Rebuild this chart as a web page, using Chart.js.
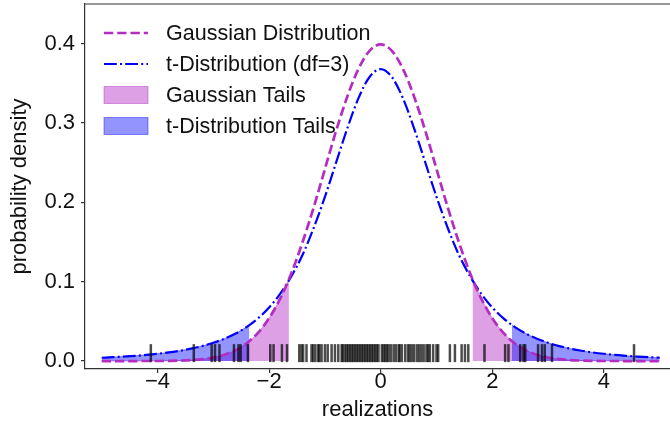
<!DOCTYPE html>
<html>
<head>
<meta charset="utf-8">
<script src="https://cdn.jsdelivr.net/npm/chart.js@4.4.1/dist/chart.umd.min.js"></script>
<style>
  html, body { margin: 0; padding: 0; background: #fff; overflow: hidden; }
</style>
</head>
<body>
<canvas id="chart" width="670" height="434"></canvas>
<script>
// curve values, x from -5 to 5 in steps of 0.2
const xValues = [-5.0, -4.8, -4.6, -4.4, -4.2, -4.0, -3.8, -3.6, -3.4, -3.2, -3.0, -2.8, -2.6, -2.4, -2.2,
  -2.0, -1.8, -1.6, -1.4, -1.2, -1.0, -0.8, -0.6, -0.4, -0.2, 0.0, 0.2, 0.4, 0.6, 0.8, 1.0, 1.2, 1.4, 1.6,
  1.8, 2.0, 2.2, 2.4, 2.6, 2.8, 3.0, 3.2, 3.4, 3.6, 3.8, 4.0, 4.2, 4.4, 4.6, 4.8, 5.0];
const gaussianDensity = [0, 0, 0, 0, 0.0001, 0.0001, 0.0003, 0.0006, 0.0012, 0.0024, 0.0044, 0.0079, 0.0136,
  0.0224, 0.0355, 0.054, 0.079, 0.111, 0.150, 0.194, 0.242, 0.290, 0.333, 0.368, 0.391, 0.399, 0.391, 0.368,
  0.333, 0.290, 0.242, 0.194, 0.150, 0.111, 0.079, 0.054, 0.0355, 0.0224, 0.0136, 0.0079, 0.0044, 0.0024,
  0.0012, 0.0006, 0.0003, 0.0001, 0.0001, 0, 0, 0, 0];
const tDensity = [0.0042, 0.0049, 0.0057, 0.0066, 0.0078, 0.0092, 0.0109, 0.0130, 0.0156, 0.0189, 0.0230,
  0.0282, 0.0347, 0.0431, 0.0538, 0.0675, 0.085, 0.107, 0.134, 0.168, 0.207, 0.250, 0.293, 0.331, 0.358,
  0.368, 0.358, 0.331, 0.293, 0.250, 0.207, 0.168, 0.134, 0.107, 0.085, 0.0675, 0.0538, 0.0431, 0.0347,
  0.0282, 0.0230, 0.0189, 0.0156, 0.0130, 0.0109, 0.0092, 0.0078, 0.0066, 0.0057, 0.0049, 0.0042];

// where the shaded tails start, and the curve height there
const gaussianCut = 1.645;
const gaussianCutDensity = 0.103;
const tCut = 2.353;
const tCutDensity = 0.0454;

// rug of realizations along the bottom
const samples = [-4.12, -3.35, -3.03, -2.97, -2.89, -2.63, -2.55, -2.51, -2.38, -1.98, -1.92, -1.77, -1.68,
  -1.46, -1.42, -1.39, -1.33, -1.24, -1.21, -1.17, -1.12, -1.10, -1.06, -1.00, -0.95, -0.88, -0.82, -0.76,
  -0.70, -0.68, -0.64, -0.61, -0.58, -0.55, -0.52, -0.49, -0.46, -0.43, -0.40, -0.37, -0.34, -0.31, -0.28,
  -0.25, -0.22, -0.19, -0.16, -0.13, -0.10, -0.07, -0.04, 0.02, 0.05, 0.08, 0.11, 0.14, 0.18, 0.23, 0.27,
  0.32, 0.34, 0.38, 0.44, 0.49, 0.52, 0.56, 0.60, 0.65, 0.69, 0.73, 0.77, 0.82, 0.85, 0.88, 0.94, 1.00, 1.03,
  1.24, 1.33, 1.45, 1.51, 1.57, 1.86, 2.23, 2.29, 2.50, 2.56, 2.59, 2.82, 2.89, 2.94, 3.07, 4.54];
const rugLevel = 0.01;

const xTickValues = [-4, -2, 0, 2, 4];
const yTickValues = [0, 0.1, 0.2, 0.3, 0.4];

const gaussColor = "rgb(180, 45, 195)";
const gaussFill = "rgba(180, 45, 195, 0.45)";
const tColor = "rgb(0, 0, 255)";
const tFill = "rgba(0, 0, 255, 0.42)";
const font = "'Liberation Sans', Arial, sans-serif";
const textColor = "#111";

const curve = (ys) => xValues.map((x, i) => ({ x: x, y: ys[i] }));

// points of one tail, with the cut point added at the inner edge
const tailPoints = (ys, cut, cutY, side) => {
  const pts = [];
  xValues.forEach((x, i) => {
    if (side * x >= cut) pts.push({ x: x, y: ys[i] });
  });
  if (side < 0) pts.push({ x: -cut, y: cutY });
  else pts.unshift({ x: cut, y: cutY });
  return pts;
};

const tailSet = (pts, color, order) => ({
  data: pts,
  showLine: true,
  fill: "origin",
  backgroundColor: color,
  borderColor: color,
  borderWidth: 1,
  pointRadius: 0,
  cubicInterpolationMode: "monotone",
  order: order,
});

const legendItems = [
  { label: "Gaussian Distribution", kind: "line", color: gaussColor, dash: [9.25, 4], width: 2.7 },
  { label: "t-Distribution (df=3)", kind: "line", color: tColor, dash: [12.8, 3.2, 2, 3.2], width: 2.2 },
  { label: "Gaussian Tails", kind: "box", color: gaussFill },
  { label: "t-Distribution Tails", kind: "box", color: tFill },
];

// top spine and the legend inside the axes
const framePlugin = {
  id: "frame",
  afterDatasetsDraw(chart) {
    const { ctx, chartArea } = chart;
    ctx.save();
    ctx.strokeStyle = "#333";
    ctx.lineWidth = 1.2;
    ctx.beginPath();
    ctx.moveTo(chartArea.left, chartArea.top);
    ctx.lineTo(chartArea.right, chartArea.top);
    ctx.stroke();

    const x0 = chartArea.left + 19;
    let y = chartArea.top + 29;
    ctx.font = "21.5px " + font;
    ctx.textBaseline = "middle";
    legendItems.forEach((item) => {
      if (item.kind === "line") {
        ctx.strokeStyle = item.color;
        ctx.lineWidth = item.width;
        ctx.setLineDash(item.dash);
        ctx.beginPath();
        ctx.moveTo(x0, y);
        ctx.lineTo(x0 + 44, y);
        ctx.stroke();
        ctx.setLineDash([]);
      } else {
        ctx.fillStyle = item.color;
        ctx.fillRect(x0, y - 8.5, 44, 17);
        ctx.strokeStyle = item.color;
        ctx.lineWidth = 1;
        ctx.strokeRect(x0, y - 8.5, 44, 17);
      }
      ctx.fillStyle = textColor;
      ctx.fillText(item.label, x0 + 62, y + 1);
      y += 31;
    });
    ctx.restore();
  },
};

new Chart(document.getElementById("chart"), {
  type: "scatter",
  data: {
    datasets: [
      {
        label: "rug",
        data: samples.map((s) => ({ x: s, y: rugLevel })),
        pointStyle: "line",
        rotation: 90,
        pointRadius: 9,
        borderWidth: 2.5,
        borderColor: "rgba(0, 0, 0, 0.7)",
        backgroundColor: "rgba(0, 0, 0, 0.7)",
        order: 0,
      },
      {
        label: "Gaussian Distribution",
        data: curve(gaussianDensity),
        showLine: true,
        borderColor: gaussColor,
        borderWidth: 2.7,
        borderDash: [9.25, 4],
        pointRadius: 0,
        cubicInterpolationMode: "monotone",
        order: 1,
      },
      {
        label: "t-Distribution (df=3)",
        data: curve(tDensity),
        showLine: true,
        borderColor: tColor,
        borderWidth: 2.2,
        borderDash: [12.8, 3.2, 2, 3.2],
        pointRadius: 0,
        cubicInterpolationMode: "monotone",
        order: 2,
      },
      tailSet(tailPoints(tDensity, tCut, tCutDensity, -1), tFill, 3),
      tailSet(tailPoints(tDensity, tCut, tCutDensity, 1), tFill, 3),
      tailSet(tailPoints(gaussianDensity, gaussianCut, gaussianCutDensity, -1), gaussFill, 4),
      tailSet(tailPoints(gaussianDensity, gaussianCut, gaussianCutDensity, 1), gaussFill, 4),
    ],
  },
  options: {
    responsive: false,
    animation: false,
    devicePixelRatio: 1,
    layout: { autoPadding: false, padding: { top: 4, right: 0, left: 0, bottom: 0 } },
    plugins: {
      legend: { display: false },
      tooltip: { enabled: false },
    },
    scales: {
      x: {
        type: "linear",
        min: -5.3,
        max: 5.185,
        afterBuildTicks: (scale) => {
          scale.ticks = xTickValues.map((v) => ({ value: v }));
        },
        afterFit: (scale) => {
          scale.height = 65;
          scale.paddingLeft = 0;
          scale.paddingRight = 0;
        },
        grid: { drawOnChartArea: false, drawTicks: true, tickLength: 4, color: "#333", lineWidth: 1.2 },
        border: { display: true, color: "#333", width: 1.2 },
        ticks: {
          padding: -2,
          maxRotation: 0,
          color: textColor,
          font: { family: font, size: 22, lineHeight: 1 },
          callback: (v) => (v < 0 ? "\u2212" + Math.abs(v) : String(v)),
        },
        title: {
          display: true,
          text: "realizations",
          color: textColor,
          font: { family: font, size: 22 },
          padding: { top: 0, bottom: 11 },
        },
      },
      y: {
        min: -0.01,
        max: 0.45,
        afterBuildTicks: (scale) => {
          scale.ticks = yTickValues.map((v) => ({ value: v }));
        },
        afterFit: (scale) => {
          scale.width = 85;
          scale.paddingTop = 0;
          scale.paddingBottom = 0;
        },
        grid: { drawOnChartArea: false, drawTicks: true, tickLength: 4, color: "#333", lineWidth: 1.2 },
        border: { display: true, color: "#333", width: 1.2 },
        ticks: {
          padding: 6,
          color: textColor,
          font: { family: font, size: 22 },
          callback: (v) => v.toFixed(1),
        },
        title: {
          display: true,
          text: "probability density",
          color: textColor,
          font: { family: font, size: 22 },
          padding: { top: 7, bottom: 0 },
        },
      },
    },
  },
  plugins: [framePlugin],
});
</script>
</body>
</html>
